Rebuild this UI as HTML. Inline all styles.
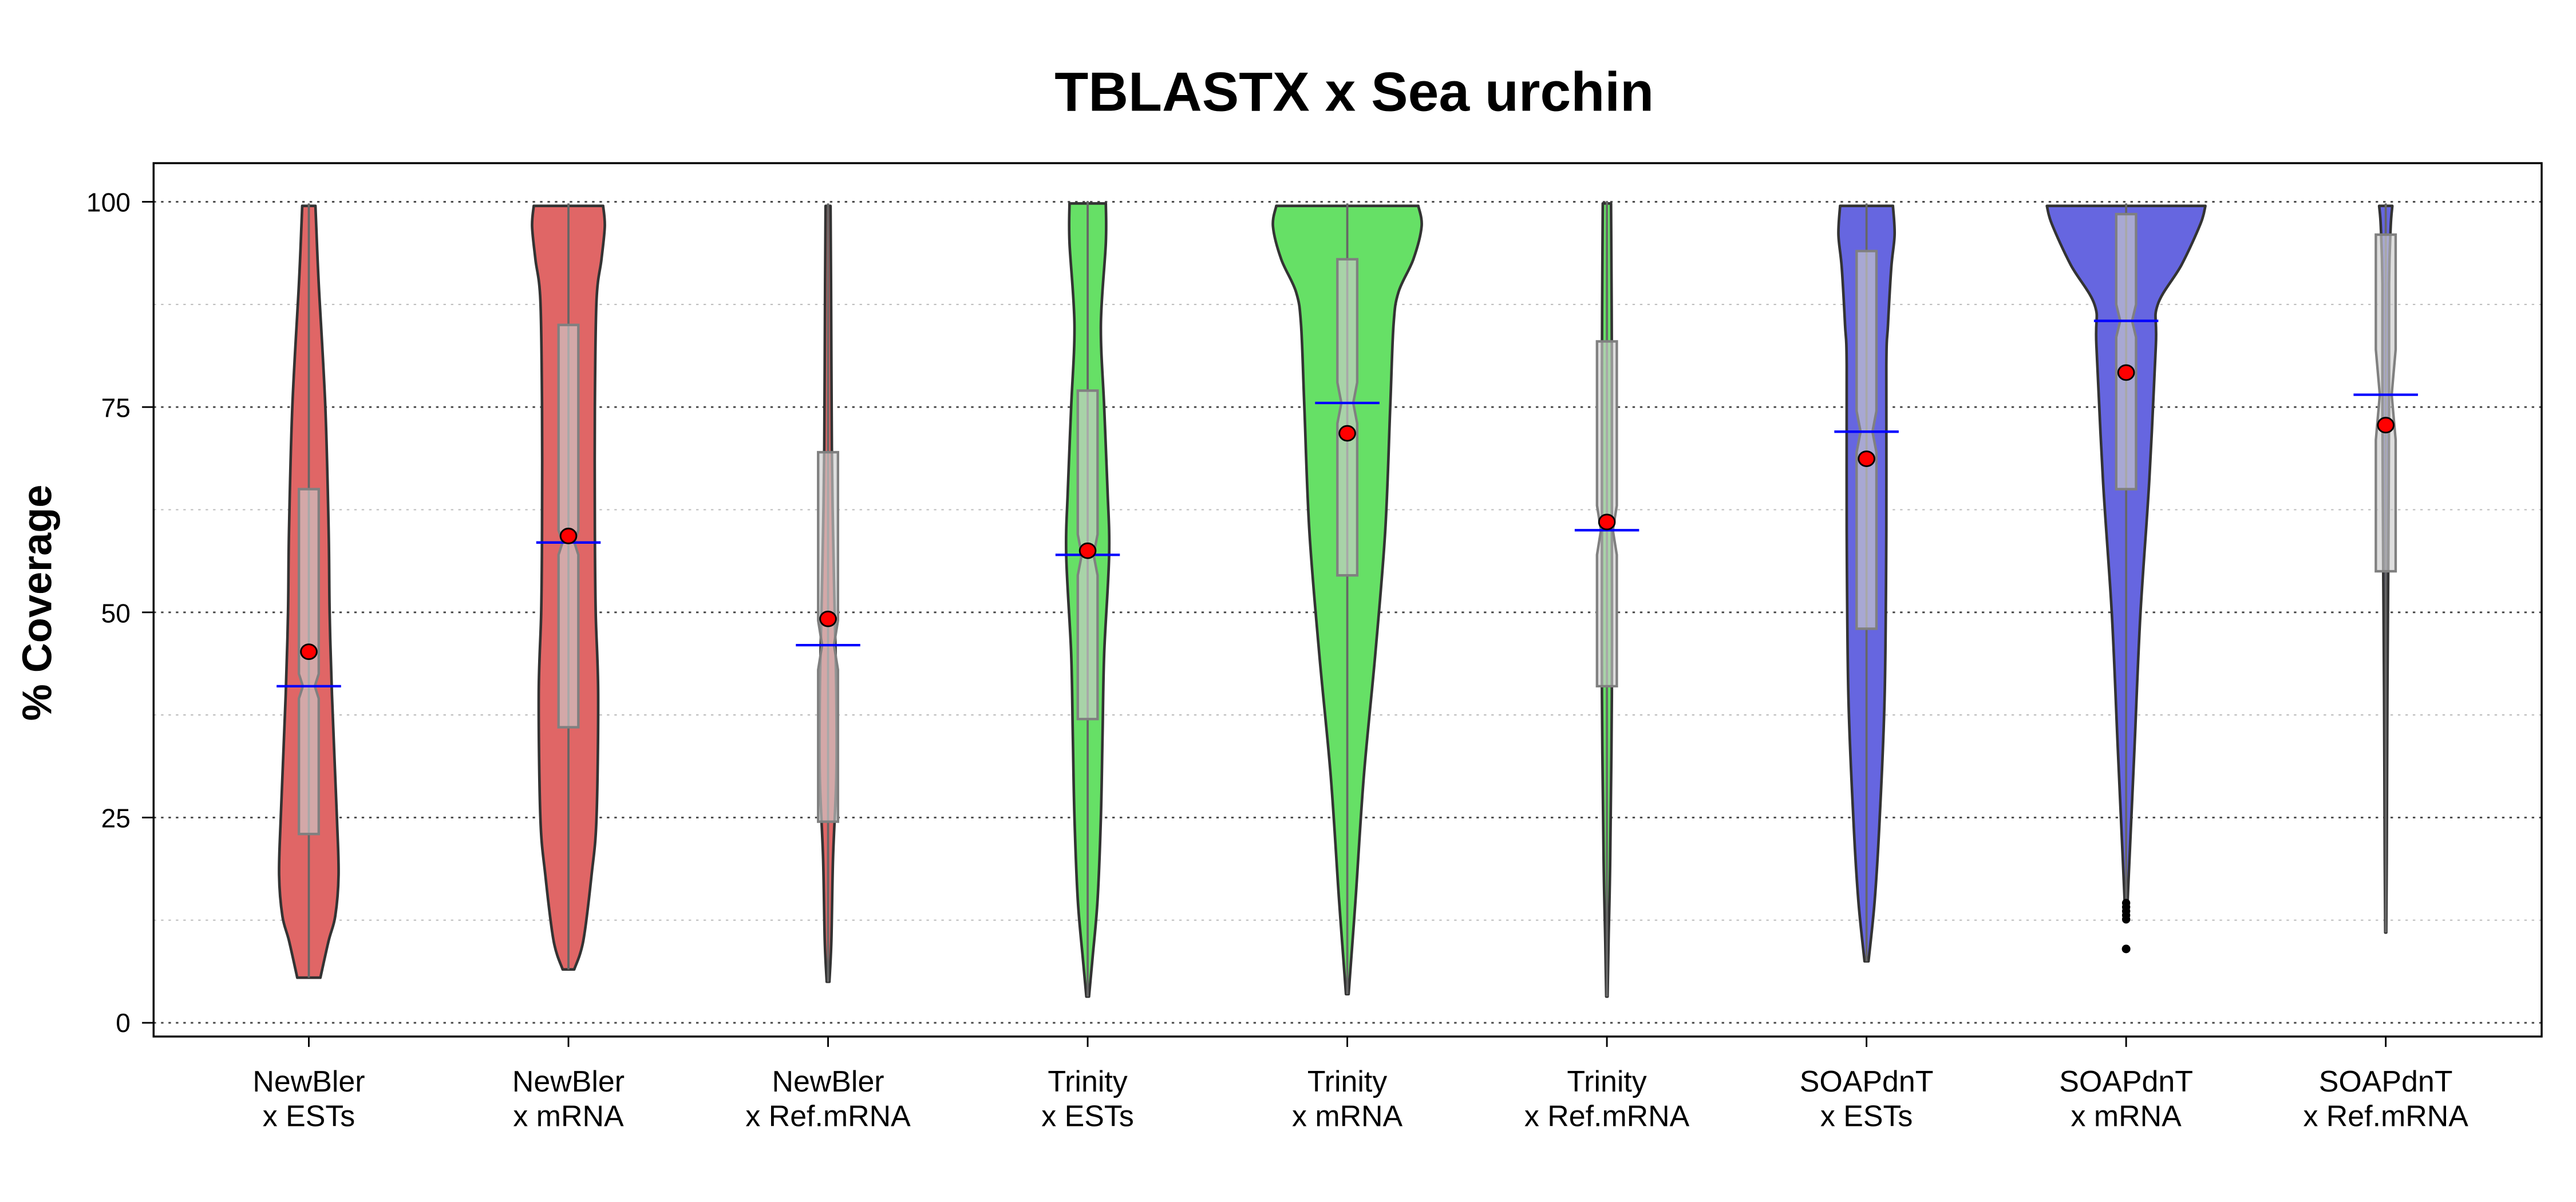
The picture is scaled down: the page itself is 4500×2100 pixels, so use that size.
<!DOCTYPE html>
<html><head><meta charset="utf-8"><style>
html,body{margin:0;padding:0;background:#fff;}
svg{display:block;}
text{font-family:"Liberation Sans",sans-serif;}
</style></head><body>
<svg id="s" width="4500" height="2100" viewBox="0 0 1559.8 727.9" xmlns="http://www.w3.org/2000/svg">
<rect x="0" y="0" width="1559.8" height="727.9" fill="#fff"/>
<g id="grid"></g>
<g id="viol"></g>
<rect x="93" y="98.8" width="1446" height="528.9" fill="none" stroke="#000" stroke-width="1.2"/>
<text x="820" y="67" font-size="33.5" font-weight="bold" text-anchor="middle">TBLASTX x Sea urchin</text>
<text transform="translate(31,365) rotate(-90)" font-size="25" font-weight="bold" text-anchor="middle">% Coverage</text>
<g font-size="16" text-anchor="end">
<text x="79" y="128">100</text><text x="79" y="252.5">75</text><text x="79" y="377">50</text><text x="79" y="501">25</text><text x="79" y="625">0</text>
</g>
<g font-size="18" text-anchor="middle">
<text x="187" y="661">NewBler</text><text x="187" y="682">x ESTs</text>
<text x="344.2" y="661">NewBler</text><text x="344.2" y="682">x mRNA</text>
<text x="501.4" y="661">NewBler</text><text x="501.4" y="682">x Ref.mRNA</text>
<text x="658.6" y="661">Trinity</text><text x="658.6" y="682">x ESTs</text>
<text x="815.8" y="661">Trinity</text><text x="815.8" y="682">x mRNA</text>
<text x="973" y="661">Trinity</text><text x="973" y="682">x Ref.mRNA</text>
<text x="1130.2" y="661">SOAPdnT</text><text x="1130.2" y="682">x ESTs</text>
<text x="1287.4" y="661">SOAPdnT</text><text x="1287.4" y="682">x mRNA</text>
<text x="1444.6" y="661">SOAPdnT</text><text x="1444.6" y="682">x Ref.mRNA</text>
</g>
</svg>
<script>
const NS="http://www.w3.org/2000/svg";
function Y(v){return 122.2+(100-v)*4.972;}
function el(p,t,a){const e=document.createElementNS(NS,t);for(const k in a)e.setAttribute(k,a[k]);p.appendChild(e);return e;}
const grid=document.getElementById('grid'),viol=document.getElementById('viol');
for(let v=0;v<=100;v+=12.5){const major=v%25===0;
 el(grid,'line',{x1:93,x2:1539,y1:Y(v),y2:Y(v),stroke:major?'#444':'#bbb','stroke-width':major?1:0.7,'stroke-dasharray':'1.5,3'});}
[0,25,50,75,100].forEach(v=>el(grid,'line',{x1:86,x2:93,y1:Y(v),y2:Y(v),stroke:'#000','stroke-width':1}));
const cx=i=>187+i*157.2;
for(let i=0;i<9;i++)el(grid,'line',{x1:cx(i),x2:cx(i),y1:627.7,y2:634,stroke:'#000','stroke-width':1});
const R='#e06666',G='#66e066',B='#6666e0';
const data=[
 {c:R,p:[[99.5,4],[97,4.5],[90,6],[75,10],[60,12],[50,12.6],[40,14],[25,17],[18,18],[13,16],[10,12],[5.5,7]],b:[23,39.5,41,42.5,65],r:45.2},
 {c:R,p:[[99.5,21],[97,22],[93,20],[88,17],[75,16],[60,16],[50,16.5],[40,18],[25,17],[18,14],[10,9],[6.5,3.5]],b:[36,57,58.5,60,85],r:59.3},
 {c:R,p:[[99.5,1.5],[90,1.8],[70,2.3],[60,3],[50,4],[40,5],[30,5],[20,3],[10,2],[5,0.8]],b:[24.5,43,46,49,69.5],r:49.2},
 {c:G,p:[[99.8,11],[95,11],[85,8],[75,10],[65,12],[57,13],[45,10],[35,9],[25,8],[15,6],[8,3],[3.2,0.8]],b:[37,54.5,57,59.5,77],r:57.5},
 {c:G,p:[[99.5,43],[97,45],[93,40],[89,31],[85,28],[75,26],[60,23],[45,17],[30,10],[15,5],[3.5,0.8]],b:[54.5,73,75.5,78,93],r:71.8},
 {c:G,p:[[99.8,2.5],[90,2.8],[80,3],[60,3],[40,3],[20,2],[10,1],[3.2,0.4]],b:[41,57,60,63,83],r:61},
 {c:B,p:[[99.5,16],[96,17],[92,15],[85,13],[80,12],[60,12],[40,11],[25,8],[15,5],[7.5,1.2]],b:[48,69.5,72,74.5,94],r:68.7},
 {c:B,p:[[99.5,48],[97.3,45],[92.3,33.5],[87.4,19],[82.5,18],[66,14],[49.6,8.6],[33.2,5],[16.7,1.3],[14,0.8]],b:[65,83.5,85.5,87.5,98.5],r:79.2},
 {c:B,p:[[99.5,4],[97,3],[90,2],[75,2],[55,1.5],[40,1],[20,0.6],[11,0.3]],b:[55,71,76.5,82,96],r:72.8}
];
function smooth(pts){let d='M'+pts[0][0]+','+pts[0][1];
 for(let i=0;i<pts.length-1;i++){const p0=pts[Math.max(0,i-1)],p1=pts[i],p2=pts[i+1],p3=pts[Math.min(pts.length-1,i+2)];
  const c1=[p1[0]+(p2[0]-p0[0])/6,p1[1]+(p2[1]-p0[1])/6],c2=[p2[0]-(p3[0]-p1[0])/6,p2[1]-(p3[1]-p1[1])/6];
  d+=' C'+c1+' '+c2+' '+p2;}return d;}
data.forEach((g,i)=>{const x=cx(i);
 const right=g.p.map(q=>[x+q[1],Y(q[0])]);
 const left=g.p.slice().reverse().map(q=>[x-q[1],Y(q[0])]);
 let d=smooth(right);d+=' L'+left[0];d+=smooth(left).replace(/^M[^C]*/,' ');d+=' Z';
 d='M'+(x-g.p[0][1])+','+Y(g.p[0][0])+' L'+right[0]+d.replace(/^M[^ ]*/,'');
 el(viol,'path',{d:d,fill:g.c,stroke:'#333','stroke-width':1.6,'stroke-linejoin':'round'});
 const top=g.p[0][0],bot=g.p[g.p.length-1][0];
 el(viol,'line',{x1:x,x2:x,y1:Y(top+0.3),y2:Y(bot),stroke:'#666','stroke-width':1.3});
 const [q1,nl,md,nh,q3]=g.b,w=6,wn=3.6;
 const bp=[[x-w,Y(q3)],[x+w,Y(q3)],[x+w,Y(nh)],[x+wn,Y(md)],[x+w,Y(nl)],[x+w,Y(q1)],[x-w,Y(q1)],[x-w,Y(nl)],[x-wn,Y(md)],[x-w,Y(nh)]];
 el(viol,'polygon',{points:bp.map(p=>p.join(',')).join(' '),fill:'rgba(205,205,205,0.65)',stroke:'#808080','stroke-width':1.5});
 el(viol,'line',{x1:x-19.5,x2:x+19.5,y1:Y(md),y2:Y(md),stroke:'#0000ff','stroke-width':1.5});
 el(viol,'ellipse',{cx:x,cy:Y(g.r),rx:4.8,ry:4.5,fill:'#ff0000',stroke:'#000','stroke-width':1});
});
[14.6,14.1,13.6,13.1,12.6].forEach(v=>el(viol,'circle',{cx:cx(7),cy:Y(v),r:2.5,fill:'#000'}));
el(viol,'circle',{cx:cx(7),cy:Y(9),r:2.6,fill:'#000'});
</script>
</body></html>
